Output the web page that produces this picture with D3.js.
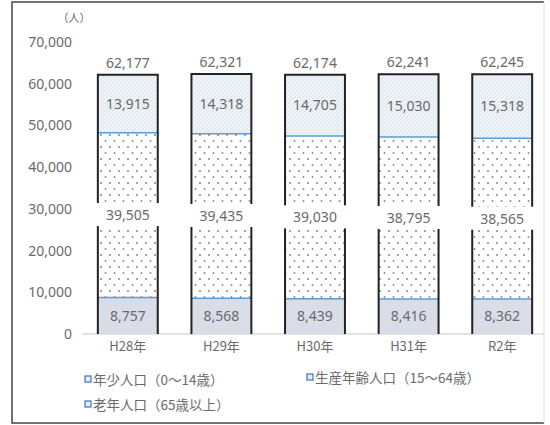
<!DOCTYPE html>
<html>
<head>
<meta charset="utf-8">
<script src="https://cdn.jsdelivr.net/npm/d3@7"></script>
<style>
  body { margin: 0; background: #fff; }
  text { font-family: "Noto Sans CJK JP", "Noto Sans", sans-serif; fill: #6a6a6a; }
</style>
</head>
<body>
<div class="chart"></div>
<script>
var years = ["H28年", "H29年", "H30年", "H31年", "R2年"];
var young = [8757, 8568, 8439, 8416, 8362];
var working = [39505, 39435, 39030, 38795, 38565];
var elderly = [13915, 14318, 14705, 15030, 15318];
var totals = [62177, 62321, 62174, 62241, 62245];
var yTicks = [0, 10000, 20000, 30000, 40000, 50000, 60000, 70000];
var legendLabels = ["年少人口（0～14歳）", "生産年齢人口（15～64歳）", "老年人口（65歳以上）"];

var svgWidth = 550;
var svgHeight = 425;

var svg = d3.select(".chart")
  .append("svg")
  .attr("width", svgWidth)
  .attr("height", svgHeight);

// patterns
var defs = svg.append("defs");
var dots = defs.append("pattern")
  .attr("id", "dots")
  .attr("patternUnits", "userSpaceOnUse")
  .attr("width", 9).attr("height", 12);
dots.append("rect").attr("width", 9).attr("height", 12).attr("fill", "#fff");
dots.append("circle").attr("cx", 2).attr("cy", 3).attr("r", 0.9).attr("fill", "#777");
dots.append("circle").attr("cx", 6.5).attr("cy", 9).attr("r", 0.9).attr("fill", "#888");

var hatch = defs.append("pattern")
  .attr("id", "hatch")
  .attr("patternUnits", "userSpaceOnUse")
  .attr("width", 4).attr("height", 4);
hatch.append("rect").attr("width", 4).attr("height", 4).attr("fill", "#eef3f8");
hatch.append("path").attr("d", "M-1,1 l2,-2 M0,4 l4,-4 M3,5 l2,-2")
  .attr("stroke", "#d6dee8").attr("stroke-width", 0.8);

// frame
svg.append("path")
  .attr("d", "M544,2 L12,2 L12,423 L544,423")
  .attr("fill", "none").attr("stroke", "#444").attr("stroke-width", 1.5);
svg.append("line")
  .attr("x1", 544).attr("x2", 544).attr("y1", 2).attr("y2", 423)
  .attr("stroke", "#ddd");

var x = d3.scaleBand()
  .domain(years)
  .range([81, 549])
  .paddingInner(0.36)
  .paddingOuter(0.18);

var y = d3.scaleLinear()
  .domain([0, 70000])
  .range([334, 42]);

// zero line
svg.append("line")
  .attr("x1", 82).attr("x2", 544)
  .attr("y1", y(0)).attr("y2", y(0))
  .attr("stroke", "#d9d9d9").attr("stroke-width", 1.5);

// y axis labels
var fmt = d3.format(",");
var yAxis = d3.axisLeft(y).tickValues(yTicks).tickSize(0).tickPadding(0).tickFormat(fmt);
var yg = svg.append("g").attr("transform", "translate(72,0)").call(yAxis);
yg.select(".domain").remove();
yg.selectAll("text").style("font-size", "14px").attr("fill", "#6a6a6a")
  .style("font-family", "Noto Sans, sans-serif");

svg.append("text")
  .attr("x", 74).attr("y", 22)
  .attr("text-anchor", "middle")
  .style("font-size", "11px")
  .text("（人）");

// x axis labels
var xAxis = d3.axisBottom(x).tickSize(0).tickPadding(0);
var xg = svg.append("g").attr("transform", "translate(0,342)").call(xAxis);
xg.select(".domain").remove();
xg.selectAll("text").style("font-size", "13px").attr("fill", "#6a6a6a")
  .style("font-family", "Noto Sans CJK JP, sans-serif");

// stacked data
var rows = years.map(function(d, i) {
  return { year: d, young: young[i], working: working[i], elderly: elderly[i], total: totals[i] };
});
var stack = d3.stack().keys(["young", "working", "elderly"])(rows);
var fills = { young: "#d9dde8", working: "url(#dots)", elderly: "url(#hatch)" };

var layers = svg.selectAll(".layer")
  .data(stack)
  .enter()
  .append("g")
  .attr("class", "layer");

layers.selectAll("rect")
  .data(function(d) { return d.map(function(p) { p.key = d.key; return p; }); })
  .enter()
  .append("rect")
  .attr("x", function(d) { return x(d.data.year); })
  .attr("y", function(d) { return y(d[1]); })
  .attr("width", x.bandwidth())
  .attr("height", function(d) { return y(d[0]) - y(d[1]); })
  .attr("fill", function(d) { return fills[d.key]; });

// blue separator lines
[stack[0], stack[1]].forEach(function(layer) {
  svg.selectAll(null)
    .data(layer)
    .enter()
    .append("line")
    .attr("x1", function(d) { return x(d.data.year); })
    .attr("x2", function(d) { return x(d.data.year) + x.bandwidth(); })
    .attr("y1", function(d) { return y(d[1]); })
    .attr("y2", function(d) { return y(d[1]); })
    .attr("stroke", "#5b9bd5").attr("stroke-width", 1.5);
});

// bar outline (top + sides)
svg.selectAll(".outline")
  .data(rows)
  .enter()
  .append("path")
  .attr("class", "outline")
  .attr("d", function(d) {
    var x0 = x(d.year), x1 = x0 + x.bandwidth();
    return "M" + x0 + "," + y(0) + " L" + x0 + "," + y(d.total) + " L" + x1 + "," + y(d.total) + " L" + x1 + "," + y(0);
  })
  .attr("fill", "none").attr("stroke", "#222").attr("stroke-width", 2);

// segment labels
stack.forEach(function(layer) {
  var g = svg.append("g");
  if (layer.key === "working") {
    g.selectAll("rect")
      .data(layer)
      .enter()
      .append("rect")
      .attr("x", function(d) { return x(d.data.year) - 2; })
      .attr("y", function(d) { return y((d[0] + d[1]) / 2) - 12; })
      .attr("width", x.bandwidth() + 4)
      .attr("height", 23)
      .attr("fill", "#fff");
  }
  g.selectAll("text")
    .data(layer)
    .enter()
    .append("text")
    .attr("x", function(d) { return x(d.data.year) + x.bandwidth() / 2; })
    .attr("y", function(d) { return y((d[0] + d[1]) / 2); })
    .attr("dy", "0.35em")
    .attr("text-anchor", "middle")
    .style("font-size", "14px")
    .style("font-family", "Noto Sans, sans-serif")
    .text(function(d) { return fmt(d[1] - d[0]); });
});

// totals
svg.selectAll(".total")
  .data(rows)
  .enter()
  .append("text")
  .attr("class", "total")
  .attr("x", function(d) { return x(d.year) + x.bandwidth() / 2; })
  .attr("y", function(d) { return y(d.total) - 12; })
  .attr("dy", "0.35em")
  .attr("text-anchor", "middle")
  .style("font-size", "14px")
  .style("font-family", "Noto Sans, sans-serif")
  .text(function(d) { return fmt(d.total); });

// legend
var legendPos = [[85, 380], [307, 378], [85, 405]];
var legend = svg.selectAll(".legend")
  .data(legendLabels)
  .enter()
  .append("g")
  .attr("class", "legend")
  .attr("transform", function(d, i) { return "translate(" + legendPos[i][0] + "," + legendPos[i][1] + ")"; });
legend.append("rect")
  .attr("x", 0).attr("y", -4).attr("width", 6).attr("height", 6)
  .attr("fill", "#e8eef8").attr("stroke", "#3b73c4").attr("stroke-width", 1.2);
legend.append("text")
  .attr("x", 8).attr("y", 0)
  .attr("dy", "0.35em")
  .style("font-size", "13.5px")
  .text(function(d) { return d; });
</script>
</body>
</html>
